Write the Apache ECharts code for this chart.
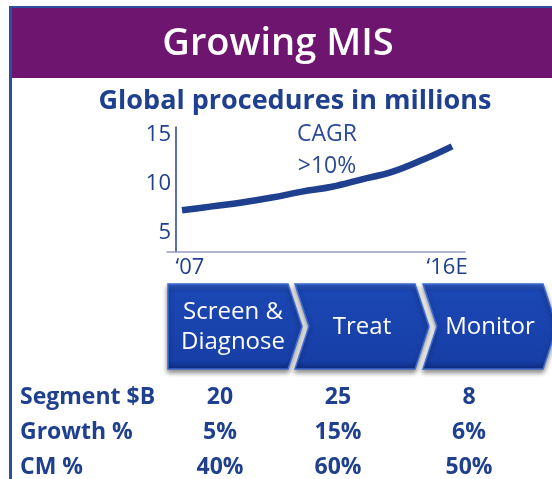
<!DOCTYPE html>
<html>
<head>
    <meta charset="utf-8">
    <title>Growing MIS</title>
    <script src="https://cdn.jsdelivr.net/npm/echarts@6/dist/echarts.min.js"></script>
    <style>
        html, body { margin: 0; padding: 0; background: #fff; }
        #main { width: 552px; height: 479px; }
    </style>
</head>
<body>
<div id="main"></div>
<script>
    // procedures (millions), '07 .. '16E
    var years = [2007, 2008, 2009, 2010, 2011, 2012, 2013, 2014, 2015, 2016];
    var procedures = [7.3, 7.7, 8.1, 8.6, 9.2, 9.7, 10.45, 11.2, 12.4, 13.8];
    var yTicks = [5, 10, 15];
    var xTicks = [2007, 2016];
    var xTickLabels = ['{a|\u201807}', '{b|\u201816E}'];

    var stages = ['Screen &\nDiagnose', 'Treat', 'Monitor'];
    var rowLabels = ['Segment $B', 'Growth %', 'CM %'];
    var segmentB = ['20', '25', '8'];
    var growth = ['5%', '15%', '6%'];
    var cm = ['40%', '60%', '50%'];

    var blue = '#1f3f8f';
    var font = '"Open Sans", sans-serif';

    var graphics = [];
    // frame + header
    graphics.push({ type: 'rect', shape: { x: 9, y: 6, width: 543, height: 2 }, style: { fill: '#2e4d9c' } });
    graphics.push({ type: 'rect', shape: { x: 9, y: 6, width: 3, height: 473 }, style: { fill: '#2e4d9c' } });
    graphics.push({ type: 'rect', shape: { x: 12, y: 8, width: 540, height: 70 }, style: { fill: '#6e1570' } });
    graphics.push({ type: 'text', x: 278, y: 44, style: { text: 'Growing MIS', fill: '#fff', font: '600 38px ' + font, textAlign: 'center', textVerticalAlign: 'middle' } });
    graphics.push({ type: 'text', x: 295, y: 101, style: { text: 'Global procedures in millions', fill: blue, font: 'bold 27px ' + font, textAlign: 'center', textVerticalAlign: 'middle' } });
    graphics.push({ type: 'text', x: 327, y: 150, style: { text: 'CAGR\n>10%', fill: '#2a4a9a', font: '23px ' + font, lineHeight: 32, textAlign: 'center', textVerticalAlign: 'middle' } });

    // chevrons
    var chevX = [168, 295, 423];
    var chevW = 120, depth = 14, chevTop = 284, chevBot = 369;
    var chevMid = (chevTop + chevBot) / 2;
    var textCx = [233, 362, 490];
    stages.forEach(function (s, i) {
        var x0 = chevX[i];
        var pts = [[x0, chevTop], [x0 + chevW, chevTop], [x0 + chevW + depth, chevMid], [x0 + chevW, chevBot], [x0, chevBot]];
        if (i > 0) pts.push([x0 + depth, chevMid]);
        graphics.push({
            type: 'polygon',
            shape: { points: pts },
            style: {
                fill: new echarts.graphic.LinearGradient(0, 0, 0, 1, [
                    { offset: 0, color: '#3564cc' },
                    { offset: 0.08, color: '#1b47b4' },
                    { offset: 0.9, color: '#173fa6' },
                    { offset: 1, color: '#0d2a80' }
                ]),
                stroke: '#3d6ad0',
                lineWidth: 1.5,
                shadowBlur: 5,
                shadowOffsetY: 3,
                shadowColor: 'rgba(0,0,0,0.45)'
            }
        });
        graphics.push({ type: 'text', x: textCx[i], y: chevMid + 1, style: { text: s, fill: '#fff', font: '24px ' + font, lineHeight: 30, textAlign: 'center', textVerticalAlign: 'middle' } });
    });

    // table
    var rows = [segmentB, growth, cm];
    var rowY = [397, 432, 467];
    var colX = [220, 338, 469];
    rows.forEach(function (vals, r) {
        graphics.push({ type: 'text', x: 20, y: rowY[r], style: { text: rowLabels[r], fill: blue, font: 'bold 23px ' + font, textAlign: 'left', textVerticalAlign: 'middle' } });
        vals.forEach(function (v, c) {
            graphics.push({ type: 'text', x: colX[c], y: rowY[r], style: { text: v, fill: blue, font: 'bold 23px ' + font, textAlign: 'center', textVerticalAlign: 'middle' } });
        });
    });

    var chart = echarts.init(document.getElementById('main'));
    chart.setOption({
        animation: false,
        grid: { left: 167, right: 552 - 465, top: 127, bottom: 479 - 252, containLabel: false },
        xAxis: {
            type: 'value',
            min: 2006.5,
            max: 2016.43,
            splitLine: { show: false },
            axisTick: { show: false },
            axisLine: { lineStyle: { color: '#9a9cc0', width: 1.5 } },
            axisLabel: {
                customValues: xTicks,
                formatter: function (v) { return xTickLabels[xTicks.indexOf(v)]; },
                color: blue,
                fontFamily: font,
                fontSize: 22,
                margin: 5,
                rich: {
                    a: { color: blue, fontFamily: font, fontSize: 22, padding: [0, 0, 0, 16] },
                    b: { color: blue, fontFamily: font, fontSize: 22, padding: [0, 10, 0, 0] }
                }
            }
        },
        yAxis: {
            type: 'value',
            min: 3.07,
            max: 15.76,
            offset: -9,
            splitLine: { show: false },
            axisTick: { show: false },
            axisLine: { show: true, onZero: false, lineStyle: { color: blue, width: 1.5 } },
            axisLabel: {
                customValues: yTicks,
                color: blue,
                fontFamily: font,
                fontSize: 22,
                margin: 5
            }
        },
        series: [{
            type: 'line',
            data: years.map(function (y, i) { return [y, procedures[i]]; }),
            smooth: 0.4,
            symbol: 'none',
            lineStyle: { color: blue, width: 6.5 },
            z: 3
        }],
        graphic: graphics
    });
</script>
</body>
</html>
